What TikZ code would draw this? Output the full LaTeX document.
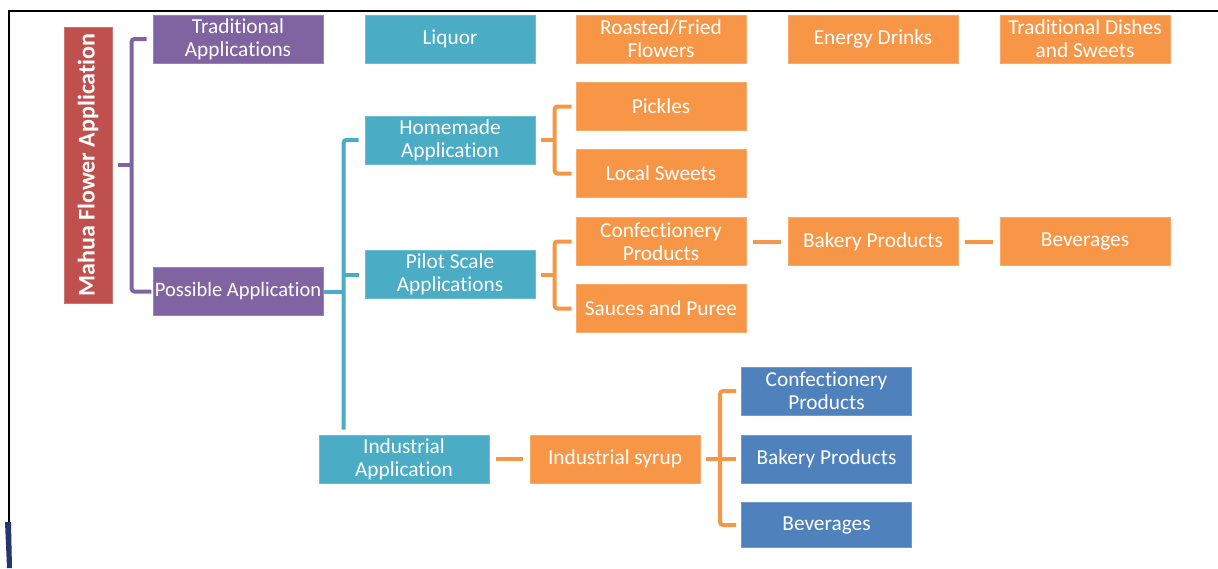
\documentclass[tikz,border=0pt]{standalone}
\usepackage{fontspec}
\setmainfont{Carlito}[Ligatures=NoCommon]
\usetikzlibrary{calc}
\definecolor{cred}{HTML}{C0504D}
\definecolor{cpur}{HTML}{8064A2}
\definecolor{cteal}{HTML}{4BACC6}
\definecolor{corange}{HTML}{F79646}
\definecolor{cblue}{HTML}{4F81BD}
\definecolor{cnavy}{HTML}{263570}
\begin{document}
\begin{tikzpicture}[x=0.75pt,y=-0.75pt,
  box/.style={fill=#1, draw=#1!80!white, line width=0.5pt, text=white, minimum width=127.5pt, minimum height=36pt,
    inner xsep=0pt, inner ysep=1pt, align=center, font=\fontsize{16}{17.5}\selectfont},
  conn/.style={line width=3pt, draw=#1},
  bracket/.style={conn=#1, rounded corners=2pt}]
\useasboundingbox (0,0) rectangle (1218,568);
% frame
\draw[line width=1.6pt] (9,568-46) -- (9,11) -- (1218,11);
\fill[cnavy] (5,522) -- (11,522) -- (12,568) -- (7,568) -- cycle;

% nodes
\node[box=cred, rotate=90, minimum width=207pt, minimum height=36pt, font=\bfseries\fontsize{18}{20}\selectfont] (mahua) at (88,165) {Mahua Flower Application};
\node[box=cpur] (trad) at (238,39) {Traditional\\Applications};
\node[box=cpur, font=\fontsize{15.4}{17.5}\selectfont] (poss) at (238,291.5) {Possible Application};
\node[box=cteal] (liq) at (450,39) {Liquor};
\node[box=corange] (roast) at (661,39) {Roasted/Fried\\Flowers};
\node[box=corange] (energy) at (873,39) {Energy Drinks};
\node[box=corange] (tdish) at (1085,39) {Traditional Dishes\\and Sweets};
\node[box=cteal] (home) at (450,140) {Homemade\\Application};
\node[box=cteal] (pilot) at (450,274.5) {Pilot Scale\\Applications};
\node[box=cteal] (ind) at (404,459) {Industrial\\Application};
\node[box=corange] (pick) at (661,106.5) {Pickles};
\node[box=corange] (local) at (661,173.5) {Local Sweets};
\node[box=corange] (conf) at (661,241.5) {Confectionery\\Products};
\node[box=corange] (sauce) at (661,308.5) {Sauces and Puree};
\node[box=corange] (bak) at (873,241.5) {Bakery Products};
\node[box=corange] (bev) at (1085,241.5) {Beverages};
\node[box=corange] (syr) at (615,459) {Industrial syrup};
\node[box=cblue] (iconf) at (826.5,391) {Confectionery\\Products};
\node[box=cblue] (ibak) at (826.5,459) {Bakery Products};
\node[box=cblue, minimum height=34pt] (ibev) at (826.5,525) {Beverages};

% purple bracket
\draw[conn=cpur] ([xshift=4.5pt]mahua.south) -- ++(14,0);
\draw[bracket=cpur] ([xshift=-4.5pt]trad.west) -- ++(-15,0) |- ([xshift=-1pt]poss.west);

% teal bracket
\coordinate (tv) at ([xshift=-15.75pt]home.west);
\draw[conn=cteal] (poss.east) -- (tv |- poss.east);
\draw[bracket=cteal] ([xshift=-4.5pt]home.west) -| ([yshift=3.75pt]tv |- ind.north);
\draw[conn=cteal] ([xshift=-4.5pt]pilot.west) -- (tv |- pilot.west);

% orange brackets
\draw[conn=corange] ([xshift=4.5pt]home.east) -- ++(14,0);
\draw[bracket=corange] ([xshift=-3pt]pick.west) -- ++(-17,0) |- ([xshift=-3pt]local.west);
\draw[conn=corange] ([xshift=4.5pt]pilot.east) -- ++(14,0);
\draw[bracket=corange] ([xshift=-3pt]conf.west) -- ++(-17,0) |- ([xshift=-3pt]sauce.west);

% dashes
\draw[conn=corange] ([xshift=5pt]conf.east) -- ([xshift=-5pt]bak.west);
\draw[conn=corange] ([xshift=5pt]bak.east) -- ([xshift=-5pt]bev.west);
\draw[conn=corange] ([xshift=5pt]ind.east) -- ([xshift=-5pt]syr.west);

% syrup bracket
\draw[conn=corange] ([xshift=4.5pt]syr.east) -- ++(16,0);
\draw[bracket=corange] ([xshift=-3.75pt]iconf.west) -- ++(-16,0) |- ([xshift=-3.75pt]ibev.west);
\draw[conn=corange] ([xshift=-3.75pt]ibak.west) -- ++(-16,0);
\end{tikzpicture}
\end{document}
